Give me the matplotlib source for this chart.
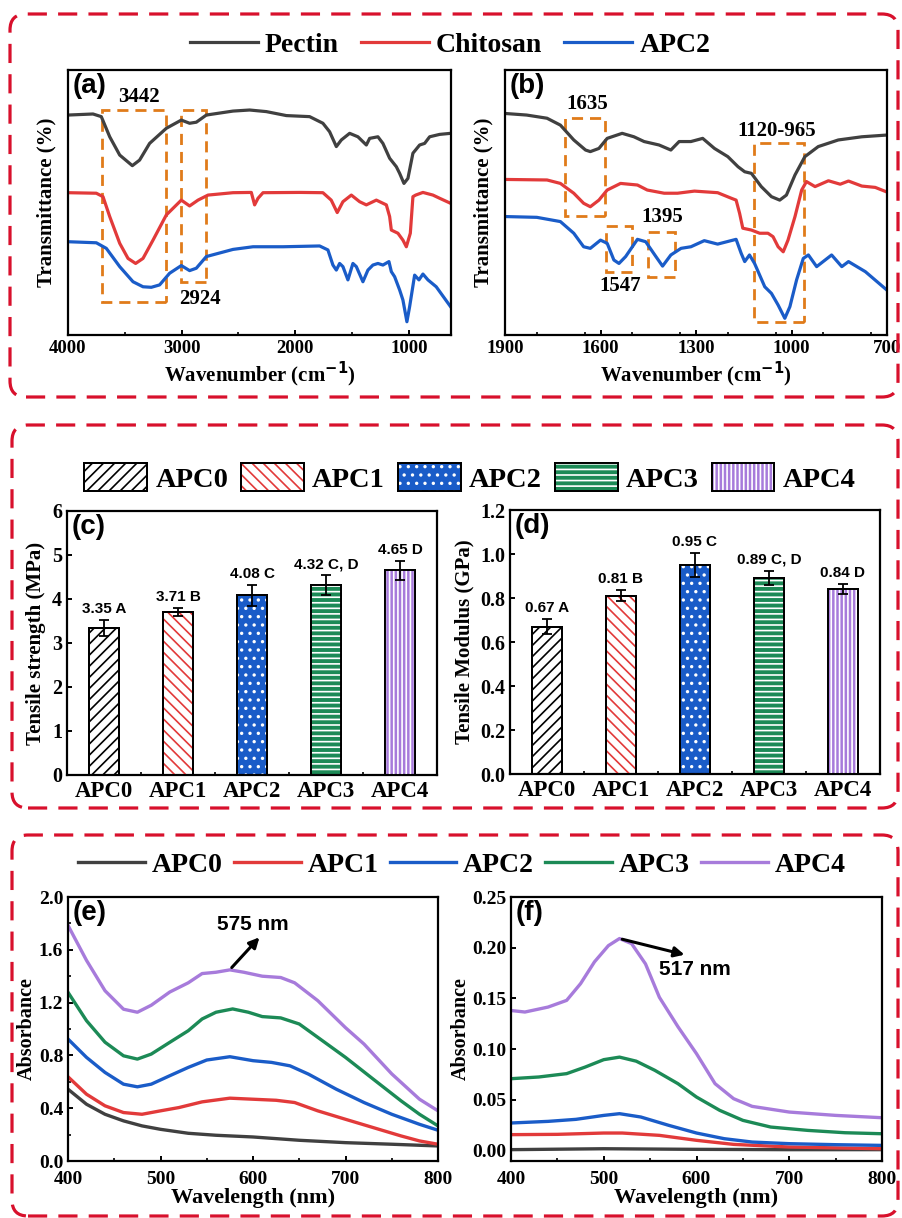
import matplotlib
matplotlib.use("Agg")
import matplotlib.pyplot as plt
from matplotlib.patches import Rectangle, FancyBboxPatch, Patch
from matplotlib.transforms import IdentityTransform
from matplotlib.ticker import MultipleLocator
from matplotlib.legend_handler import HandlerTuple

# ---------------- data ----------------
# FTIR (a) full range, transmittance in arbitrary units (0-100 = axis height)
wn_a_pectin = [4000, 3780, 3707, 3633, 3545, 3434, 3370, 3282, 3135, 3003, 2930, 2871, 2783, 2548,
               2402, 2255, 2079, 1874, 1757, 1698, 1639, 1595, 1522, 1449, 1375, 1346, 1273, 1229,
               1170, 1111, 1082, 1044, 1009, 965, 906, 862, 818, 730, 634]
t_a_pectin = [83.0, 83.4, 82.4, 74.8, 67.9, 63.9, 66.0, 72.3, 78.0, 81.1, 79.9, 80.3, 83.0, 84.5,
              84.9, 84.3, 82.8, 82.4, 79.9, 76.7, 71.1, 73.6, 76.1, 74.8, 71.7, 74.2, 74.8, 72.3,
              66.7, 63.5, 61.0, 57.2, 59.1, 68.6, 71.7, 72.3, 74.8, 75.7, 76.1]
wn_a_chitosan = [4000, 3751, 3692, 3633, 3545, 3472, 3405, 3340, 3252, 3135, 3003, 2930, 2856, 2768,
                 2548, 2387, 2358, 2328, 2284, 1962, 1757, 1684, 1631, 1581, 1507, 1434, 1375, 1287,
                 1199, 1170, 1155, 1097, 1053, 1023, 988, 965, 941, 877, 789, 730, 634]
t_a_chitosan = [53.7, 53.5, 52.2, 44.7, 34.6, 28.9, 27.0, 28.9, 35.8, 45.3, 50.9, 48.7, 50.9, 52.8,
                53.7, 53.8, 49.1, 51.6, 53.7, 53.8, 53.7, 50.9, 46.2, 50.3, 52.8, 50.3, 49.1, 50.9,
                49.1, 44.7, 39.6, 38.4, 35.8, 33.3, 38.4, 52.2, 52.8, 53.8, 52.8, 51.6, 49.7]
wn_a_apc2 = [4000, 3751, 3663, 3545, 3428, 3340, 3267, 3194, 3106, 3003, 2930, 2871, 2783, 2548,
             2372, 2108, 1786, 1713, 1669, 1639, 1610, 1581, 1537, 1493, 1463, 1405, 1361, 1317,
             1273, 1229, 1176, 1155, 1126, 1082, 1053, 1018, 994, 950, 912, 877, 833, 760, 634]
t_a_apc2 = [35.2, 34.8, 32.7, 25.8, 20.1, 18.2, 18.0, 18.9, 23.3, 26.2, 24.3, 25.2, 29.6, 32.3,
            33.3, 33.3, 33.6, 32.1, 26.4, 24.5, 27.0, 25.8, 20.8, 27.0, 25.8, 20.1, 24.5, 26.4,
            27.0, 26.4, 27.7, 23.9, 22.0, 17.0, 13.2, 5.0, 10.7, 22.6, 20.8, 23.0, 20.8, 18.2, 10.7]

# FTIR (b) fingerprint region
wn_b_pectin = [1900, 1832, 1768, 1726, 1684, 1647, 1632, 1605, 1579, 1532, 1495, 1463, 1416, 1379,
               1353, 1316, 1279, 1242, 1200, 1168, 1147, 1126, 1095, 1063, 1037, 1016, 989, 958,
               916, 853, 779, 695]
t_b_pectin = [83.6, 83.0, 81.8, 79.2, 73.6, 69.8, 69.2, 70.4, 74.2, 76.1, 74.8, 73.0, 71.7, 69.8,
              73.0, 73.0, 74.2, 70.4, 67.3, 63.5, 61.6, 61.0, 56.0, 52.2, 50.9, 52.8, 60.4, 67.3,
              71.1, 73.6, 74.8, 75.5]
wn_b_chitosan = [1900, 1768, 1726, 1684, 1653, 1632, 1605, 1579, 1537, 1484, 1453, 1400, 1358, 1305,
                 1232, 1189, 1174, 1163, 1153, 1126, 1100, 1074, 1058, 1042, 1026, 1011, 989, 968,
                 953, 926, 884, 847, 821, 779, 737, 695]
t_b_chitosan = [58.7, 58.5, 57.2, 53.5, 49.7, 48.4, 50.9, 54.7, 57.2, 56.6, 54.7, 53.5, 53.5, 54.3,
                53.7, 51.6, 50.9, 45.9, 40.3, 39.6, 38.4, 38.4, 37.1, 33.3, 31.4, 35.8, 44.7, 54.7,
                57.9, 56.0, 58.2, 56.9, 58.1, 56.2, 55.7, 53.7]
wn_b_apc2 = [1900, 1800, 1726, 1684, 1653, 1632, 1600, 1579, 1558, 1542, 1521, 1484, 1458, 1426,
             1405, 1379, 1347, 1316, 1274, 1232, 1174, 1158, 1147, 1132, 1116, 1084, 1063, 1042,
             1021, 1005, 984, 963, 947, 921, 874, 842, 821, 768, 695]
t_b_apc2 = [44.7, 44.4, 42.8, 38.4, 33.3, 32.7, 35.8, 34.6, 28.3, 27.0, 29.6, 36.1, 35.2, 29.6,
            26.0, 30.2, 32.7, 33.3, 35.6, 34.3, 36.1, 30.8, 27.7, 30.2, 27.0, 18.2, 15.7, 11.3,
            6.3, 10.7, 20.8, 28.9, 30.2, 25.8, 30.2, 25.8, 27.7, 23.9, 16.4]

# mechanical properties
samples = ["APC0", "APC1", "APC2", "APC3", "APC4"]
ts_mean = [3.35, 3.71, 4.08, 4.32, 4.65]
ts_err = [0.18, 0.09, 0.23, 0.22, 0.22]
ts_group = ["A", "B", "C", "C, D", "D"]
tm_mean = [0.67, 0.81, 0.95, 0.89, 0.84]
tm_err = [0.035, 0.025, 0.055, 0.033, 0.024]
tm_group = ["A", "B", "C", "C, D", "D"]

# UV-vis (e)
wl_e_apc0 = [400, 420, 440, 460, 480, 500, 530, 560, 600, 650, 700, 750, 800]
ab_e_apc0 = [0.544, 0.43, 0.354, 0.304, 0.266, 0.24, 0.21, 0.195, 0.182, 0.157, 0.139, 0.127, 0.114]
wl_e_apc1 = [400, 420, 440, 460, 480, 500, 520, 545, 575, 600, 625, 645, 670, 700, 730, 760, 780, 800]
ab_e_apc1 = [0.638, 0.506, 0.418, 0.367, 0.354, 0.38, 0.405, 0.448, 0.476, 0.468, 0.46, 0.443,
             0.38, 0.316, 0.253, 0.19, 0.152, 0.127]
wl_e_apc2 = [400, 420, 440, 460, 475, 490, 510, 530, 550, 575, 600, 620, 640, 660, 690, 720, 750, 780, 800]
ab_e_apc2 = [0.924, 0.785, 0.671, 0.582, 0.562, 0.582, 0.646, 0.709, 0.765, 0.79, 0.76, 0.747,
             0.721, 0.658, 0.544, 0.443, 0.354, 0.278, 0.233]
wl_e_apc3 = [400, 420, 440, 460, 475, 490, 510, 530, 545, 560, 578, 595, 610, 630, 650, 670, 700,
             730, 760, 780, 800]
ab_e_apc3 = [1.278, 1.063, 0.90, 0.797, 0.772, 0.81, 0.899, 0.987, 1.076, 1.127, 1.152, 1.127,
             1.094, 1.084, 1.038, 0.937, 0.785, 0.62, 0.456, 0.354, 0.266]
wl_e_apc4 = [400, 420, 440, 460, 475, 490, 510, 530, 545, 560, 575, 590, 610, 630, 645, 670, 700,
             720, 750, 780, 800]
ab_e_apc4 = [1.785, 1.52, 1.29, 1.15, 1.127, 1.18, 1.28, 1.35, 1.42, 1.43, 1.448, 1.43, 1.40,
             1.39, 1.35, 1.215, 1.01, 0.886, 0.66, 0.468, 0.38]

# UV-vis (f)
wl_f_apc0 = [400, 500, 600, 700, 800]
ab_f_apc0 = [0.0007, 0.0016, 0.001, 0.0007, 0.0007]
wl_f_apc1 = [400, 450, 500, 520, 560, 600, 640, 700, 800]
ab_f_apc1 = [0.0155, 0.0158, 0.0171, 0.0171, 0.0148, 0.0099, 0.0059, 0.0033, 0.0016]
wl_f_apc2 = [400, 440, 470, 500, 517, 540, 570, 600, 630, 660, 700, 750, 800]
ab_f_apc2 = [0.027, 0.0286, 0.0306, 0.0345, 0.0362, 0.0329, 0.0247, 0.0171, 0.0115, 0.0082,
             0.0066, 0.0056, 0.0049]
wl_f_apc3 = [400, 430, 460, 480, 500, 517, 535, 555, 580, 600, 625, 650, 680, 720, 760, 800]
ab_f_apc3 = [0.0707, 0.0724, 0.0757, 0.0822, 0.0895, 0.092, 0.088, 0.079, 0.0658, 0.0526,
             0.0395, 0.0296, 0.023, 0.0197, 0.0174, 0.0164]
wl_f_apc4 = [400, 415, 440, 460, 475, 490, 505, 517, 530, 545, 560, 580, 600, 620, 640, 660,
             700, 750, 800]
ab_f_apc4 = [0.138, 0.1365, 0.1414, 0.148, 0.1645, 0.186, 0.202, 0.209, 0.204, 0.184, 0.151,
             0.122, 0.0954, 0.0658, 0.051, 0.0434, 0.0378, 0.0345, 0.0322]

# ---------------- style ----------------
plt.rcParams["font.family"] = ["Liberation Serif", "DejaVu Serif"]
plt.rcParams["font.weight"] = "bold"
plt.rcParams["axes.labelweight"] = "bold"
plt.rcParams["axes.linewidth"] = 1.6
plt.rcParams["xtick.direction"] = "in"
plt.rcParams["ytick.direction"] = "in"
plt.rcParams["xtick.major.width"] = 1.4
plt.rcParams["ytick.major.width"] = 1.4
plt.rcParams["xtick.minor.width"] = 1.2
plt.rcParams["ytick.minor.width"] = 1.2
plt.rcParams["hatch.linewidth"] = 1.2

C_GRAY = "#404040"
C_RED = "#e23a3a"
C_BLUE = "#1a5cc8"
C_GREEN = "#1c8a56"
C_PURPLE = "#a77bdb"
C_ORANGE = "#e07b1a"
C_FRAME = "#d8102c"
SANS = "Liberation Sans"

W, H = 902, 1218
fig = plt.figure(figsize=(W / 100, H / 100), dpi=100)


def ax_at(l, t, r, b):
    return fig.add_axes([l / W, 1 - b / H, (r - l) / W, (b - t) / H])


def frame(l, t, r, b):
    box = FancyBboxPatch((l, H - b), r - l, b - t, boxstyle="round,pad=0,rounding_size=16",
                         transform=IdentityTransform(), facecolor="none", edgecolor=C_FRAME,
                         linewidth=2.3, linestyle=(0, (6, 3.5)))
    fig.add_artist(box)


def panel_label(ax, s):
    ax.text(0.012, 0.99, s, transform=ax.transAxes, ha="left", va="top",
            fontsize=20, fontweight="bold", family=SANS)


frame(10, 14, 898, 397)
frame(12, 425, 898, 808)
frame(12, 835, 898, 1216)

# ---------------- FTIR ----------------
ax_a = ax_at(68, 70, 451, 335)
ax_a.plot(wn_a_pectin, t_a_pectin, color=C_GRAY, lw=2.3)
ax_a.plot(wn_a_chitosan, t_a_chitosan, color=C_RED, lw=2.3)
ax_a.plot(wn_a_apc2, t_a_apc2, color=C_BLUE, lw=2.3)
ax_a.set_xlim(4000, 630)
ax_a.set_ylim(0, 100)
ax_a.set_xticks([4000, 3000, 2000, 1000])
ax_a.xaxis.set_minor_locator(MultipleLocator(500))
ax_a.set_yticks([])
ax_a.tick_params(labelsize=13.5)
ax_a.set_xlabel("Wavenumber (cm$^{\\mathbf{-1}}$)", fontsize=15, labelpad=2)
ax_a.set_ylabel("Transmittance (%)", fontsize=15, labelpad=8)
panel_label(ax_a, "(a)")
for (x0, x1, y0, y1) in [(3698, 3135, 12.6, 84.9), (3003, 2783, 20.1, 84.9)]:
    ax_a.add_patch(Rectangle((x1, y0), x0 - x1, y1 - y0, fill=False, edgecolor=C_ORANGE,
                             lw=2, ls=(0, (4, 2.5))))
ax_a.text(3380, 90, "3442", ha="center", va="center", fontsize=15)
ax_a.text(2840, 13.5, "2924", ha="center", va="center", fontsize=15)

ax_b = ax_at(505, 70, 887, 335)
ax_b.plot(wn_b_pectin, t_b_pectin, color=C_GRAY, lw=2.3, label="Pectin")
ax_b.plot(wn_b_chitosan, t_b_chitosan, color=C_RED, lw=2.3, label="Chitosan")
ax_b.plot(wn_b_apc2, t_b_apc2, color=C_BLUE, lw=2.3, label="APC2")
ax_b.set_xlim(1900, 700)
ax_b.set_ylim(0, 100)
ax_b.set_xticks([1900, 1600, 1300, 1000, 700])
ax_b.xaxis.set_minor_locator(MultipleLocator(150))
ax_b.set_yticks([])
ax_b.tick_params(labelsize=13.5)
ax_b.set_xlabel("Wavenumber (cm$^{\\mathbf{-1}}$)", fontsize=15, labelpad=2)
ax_b.set_ylabel("Transmittance (%)", fontsize=15, labelpad=8)
panel_label(ax_b, "(b)")
for (x0, x1, y0, y1) in [(1711, 1587, 44.9, 81.8), (1582, 1502, 23.9, 41.1),
                         (1450, 1366, 22.0, 39.0), (1118, 960, 5.0, 72.3)]:
    ax_b.add_patch(Rectangle((x1, y0), x0 - x1, y1 - y0, fill=False, edgecolor=C_ORANGE,
                             lw=2, ls=(0, (4, 2.5))))
ax_b.text(1642, 87, "1635", ha="center", va="center", fontsize=15)
ax_b.text(1537, 18.5, "1547", ha="center", va="center", fontsize=15)
ax_b.text(1405, 44.5, "1395", ha="center", va="center", fontsize=15)
ax_b.text(1047, 77, "1120-965", ha="center", va="center", fontsize=15)

h, l = ax_b.get_legend_handles_labels()
fig.legend(h, l, loc="center", bbox_to_anchor=(450 / W, 1 - 45 / H), ncol=3, frameon=False,
           fontsize=20, handlelength=2.45, columnspacing=0.8, handletextpad=0.25,
           borderaxespad=0)

# ---------------- bars ----------------
bar_face = ["white", "white", C_BLUE, C_GREEN, C_PURPLE]
bar_hcol = ["black", C_RED, "white", "white", "white"]
bar_hatch = ["///", "\\\\\\", "..", "---", "||||"]


def bar_panel(ax, mean, err, group, ymax, ystep, ylabel, tag):
    x = list(range(len(samples)))
    for i in x:
        ax.bar(i, mean[i], 0.4, color=bar_face[i], edgecolor="black", lw=1.4, zorder=2)
        ax.bar(i, mean[i], 0.4, facecolor="none", edgecolor=bar_hcol[i], hatch=bar_hatch[i],
               lw=0, zorder=3)
        ax.bar(i, mean[i], 0.4, facecolor="none", edgecolor="black", lw=1.4, zorder=4)
    ax.errorbar(x, mean, yerr=err, fmt="none", ecolor="black", elinewidth=1.3, capsize=3.5,
                capthick=1.3, zorder=5)
    for i in x:
        ax.annotate("{:.2f} {}".format(mean[i], group[i]), (i, mean[i] + err[i]),
                    xytext=(0, 3), textcoords="offset points", ha="center", va="bottom",
                    fontsize=11, fontweight="bold", family=SANS)
    ax.set_xlim(-0.5, 4.5)
    ax.set_ylim(0, ymax)
    ax.yaxis.set_major_locator(MultipleLocator(ystep))
    ax.set_xticks(x)
    ax.set_xticklabels(samples)
    ax.set_xticks([0.5, 1.5, 2.5, 3.5], minor=True)
    ax.tick_params(axis="x", which="major", length=0, labelsize=16.5, pad=4)
    ax.tick_params(axis="y", labelsize=14.5)
    ax.set_ylabel(ylabel, fontsize=15, labelpad=4)
    panel_label(ax, tag)


ax_c = ax_at(67, 511, 437, 775)
bar_panel(ax_c, ts_mean, ts_err, ts_group, 6, 1, "Tensile strength (MPa)", "(c)")
ax_c.yaxis.set_major_formatter(plt.FormatStrFormatter("%d"))
ax_d = ax_at(510, 510, 880, 774)
bar_panel(ax_d, tm_mean, tm_err, tm_group, 1.2, 0.2, "Tensile Modulus (GPa)", "(d)")
ax_d.yaxis.set_major_formatter(plt.FormatStrFormatter("%.1f"))

bar_handles = []
for i in range(len(samples)):
    base = Patch(facecolor=bar_face[i], edgecolor="black", lw=1.4)
    hat = Patch(facecolor="none", edgecolor=bar_hcol[i], hatch=bar_hatch[i], lw=0)
    edge = Patch(facecolor="none", edgecolor="black", lw=1.4)
    bar_handles.append((base, hat, edge))
fig.legend(bar_handles, samples, handler_map={tuple: HandlerTuple(ndivide=1, pad=0)},
           loc="center", bbox_to_anchor=(470 / W, 1 - 478 / H), ncol=5, frameon=False,
           fontsize=20.5, handlelength=2.2, handleheight=1.1, columnspacing=0.45,
           handletextpad=0.3, borderaxespad=0)

# ---------------- UV-vis ----------------
uv_colors = [C_GRAY, C_RED, C_BLUE, C_GREEN, C_PURPLE]
ax_e = ax_at(68, 897, 438, 1161)
for wl, ab, c, n in zip([wl_e_apc0, wl_e_apc1, wl_e_apc2, wl_e_apc3, wl_e_apc4],
                        [ab_e_apc0, ab_e_apc1, ab_e_apc2, ab_e_apc3, ab_e_apc4], uv_colors, samples):
    ax_e.plot(wl, ab, color=c, lw=2.4, label=n)
ax_e.set_xlim(400, 800)
ax_e.set_ylim(0, 2.0)
ax_e.xaxis.set_major_locator(MultipleLocator(100))
ax_e.xaxis.set_minor_locator(MultipleLocator(50))
ax_e.yaxis.set_major_locator(MultipleLocator(0.4))
ax_e.yaxis.set_minor_locator(MultipleLocator(0.2))
ax_e.yaxis.set_major_formatter(plt.FormatStrFormatter("%.1f"))
ax_e.tick_params(labelsize=14)
ax_e.tick_params(axis="x", pad=7)
ax_e.set_xlabel("Wavelength (nm)", fontsize=16, labelpad=0)
ax_e.set_ylabel("Absorbance", fontsize=14.5, labelpad=1)
panel_label(ax_e, "(e)")
ax_e.annotate("", xy=(609, 1.71), xytext=(575, 1.45),
              arrowprops=dict(arrowstyle="-|>", color="black", lw=2.2, mutation_scale=15))
ax_e.text(600, 1.79, "575 nm", ha="center", va="center", fontsize=15, family=SANS,
          fontweight="bold")

ax_f = ax_at(511, 897, 882, 1161)
for wl, ab, c, n in zip([wl_f_apc0, wl_f_apc1, wl_f_apc2, wl_f_apc3, wl_f_apc4],
                        [ab_f_apc0, ab_f_apc1, ab_f_apc2, ab_f_apc3, ab_f_apc4], uv_colors, samples):
    ax_f.plot(wl, ab, color=c, lw=2.4, label=n)
ax_f.set_xlim(400, 800)
ax_f.set_ylim(-0.0105, 0.25)
ax_f.xaxis.set_major_locator(MultipleLocator(100))
ax_f.xaxis.set_minor_locator(MultipleLocator(50))
ax_f.set_yticks([0, 0.05, 0.10, 0.15, 0.20, 0.25])
ax_f.yaxis.set_major_formatter(plt.FormatStrFormatter("%.2f"))
ax_f.tick_params(labelsize=14)
ax_f.tick_params(axis="x", pad=7)
ax_f.set_xlabel("Wavelength (nm)", fontsize=16, labelpad=0)
ax_f.set_ylabel("Absorbance", fontsize=14.5, labelpad=1)
panel_label(ax_f, "(f)")
ax_f.annotate("", xy=(590, 0.1924), xytext=(517, 0.209),
              arrowprops=dict(arrowstyle="-|>", color="black", lw=2.2, mutation_scale=15))
ax_f.text(598, 0.178, "517 nm", ha="center", va="center", fontsize=15, family=SANS,
          fontweight="bold")

h, l = ax_e.get_legend_handles_labels()
fig.legend(h, l, loc="center", bbox_to_anchor=(462 / W, 1 - 865 / H), ncol=5, frameon=False,
           fontsize=20, handlelength=2.4, columnspacing=0.4, handletextpad=0.25,
           borderaxespad=0)

fig.savefig("out.png", dpi=100)
